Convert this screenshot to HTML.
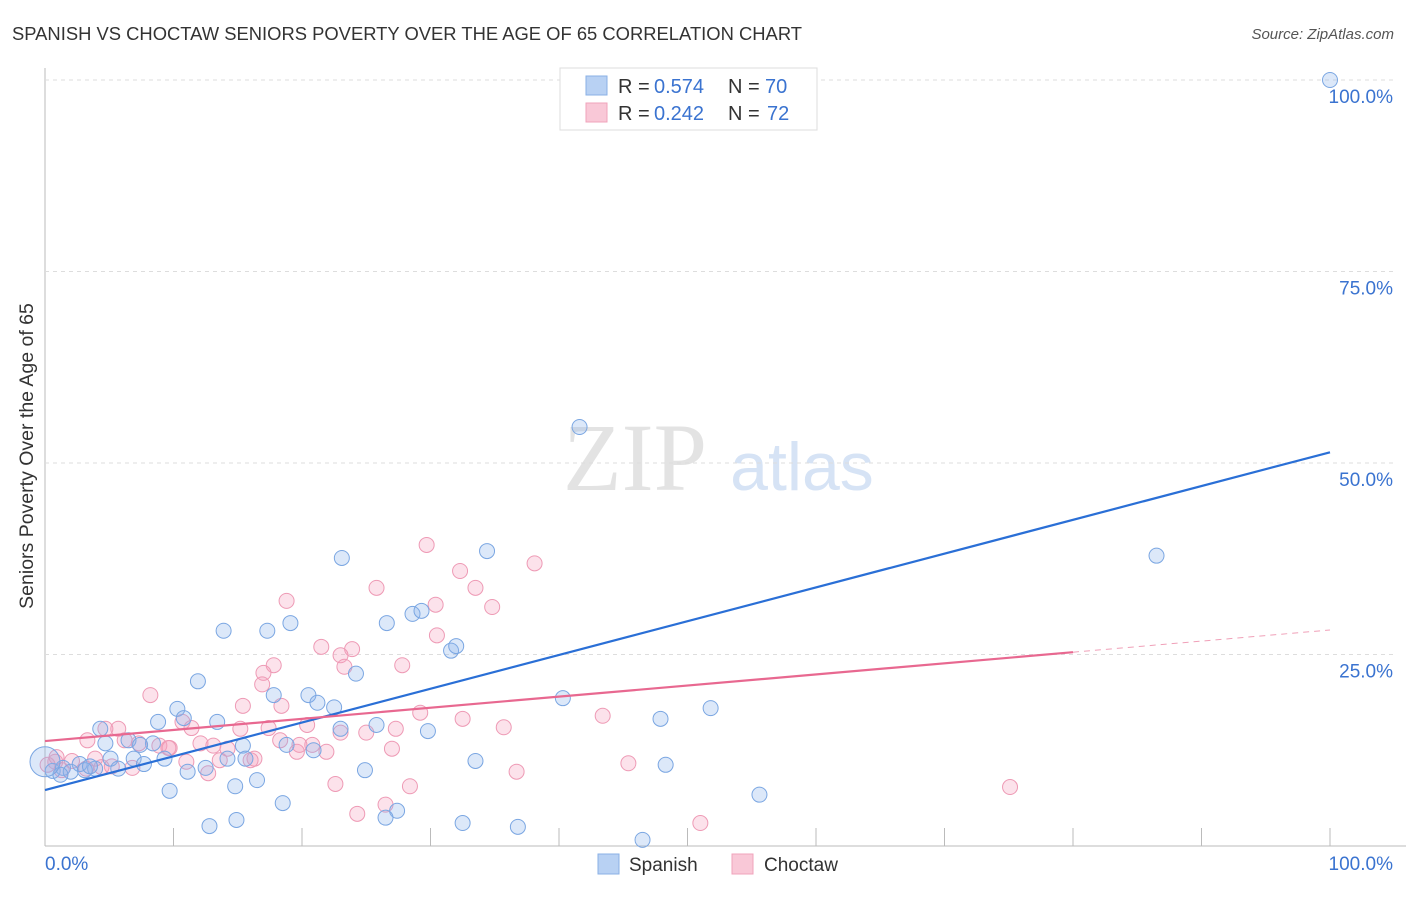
<!DOCTYPE html>
<html><head><meta charset="utf-8"><style>
body{margin:0;background:#fff;font-family:"Liberation Sans",sans-serif}
svg text{font-family:"Liberation Sans",sans-serif}
</style></head><body>
<svg id="chart" width="1406" height="892">
<text x="12" y="40" font-size="18" fill="#333" textLength="790" lengthAdjust="spacingAndGlyphs">SPANISH VS CHOCTAW SENIORS POVERTY OVER THE AGE OF 65 CORRELATION CHART</text>
<text x="1394" y="39" font-size="15" fill="#555" font-style="italic" text-anchor="end">Source: ZipAtlas.com</text>
<text transform="translate(33,456) rotate(-90)" font-size="19.5" fill="#333" text-anchor="middle">Seniors Poverty Over the Age of 65</text>
<g>
<text x="635" y="490" font-size="96" fill="#e3e3e3" font-family="Liberation Serif" text-anchor="middle" style="font-family:'Liberation Serif',serif">ZIP</text>
<text x="802" y="490" font-size="68" fill="#d6e3f5" text-anchor="middle">atlas</text>
</g>
<g id="grid"></g><g id="marks"></g>
<g>
<rect x="560" y="68" width="257" height="62" fill="#fff" stroke="#ddd"/>
<rect x="586" y="76" width="21" height="19" fill="#b8d1f3" stroke="#8ab0e6"/>
<rect x="586" y="103" width="21" height="19" fill="#f9c8d7" stroke="#f0a3bb"/>
<text y="93" font-size="20" fill="#333"><tspan x="618">R =</tspan><tspan x="654" fill="#3a73d0">0.574</tspan><tspan x="728">N =</tspan><tspan x="765" fill="#3a73d0">70</tspan></text>
<text y="120" font-size="20" fill="#333"><tspan x="618">R =</tspan><tspan x="654" fill="#3a73d0">0.242</tspan><tspan x="728">N =</tspan><tspan x="767" fill="#3a73d0">72</tspan></text>
</g>
<g>
<rect x="598" y="854" width="21" height="20" fill="#b8d1f3" stroke="#8ab0e6"/>
<text x="629" y="871" font-size="19" fill="#333">Spanish</text>
<rect x="732" y="854" width="21" height="20" fill="#f9c8d7" stroke="#f0a3bb"/>
<text x="764" y="871" font-size="19" fill="#333">Choctaw</text>
</g>
</svg>
<script>
const blueX=[100,41.6,86.5,34.4,23.1,13.9,17.3,19.1,26.6,28.6,29.3,31.6,32.0,24.2,11.9,17.8,20.5,21.2,22.5,10.3,10.8,8.8,13.4,25.8,29.8,23.0,40.3,47.9,51.8,4.3,6.5,4.7,8.4,15.4,18.8,20.9,5.1,6.9,9.3,7.7,15.6,14.2,33.5,48.3,2.7,3.9,5.7,0.6,1.4,2.0,11.1,12.5,24.9,16.5,14.8,9.7,18.5,55.6,27.4,26.5,14.9,12.8,32.5,36.8,46.5,1.2,3.1,7.4,3.5,0];
const blueY=[100,54.7,37.9,38.5,37.6,28.1,28.1,29.1,29.1,30.3,30.7,25.5,26.1,22.5,21.5,19.7,19.7,18.7,18.1,17.9,16.7,16.2,16.2,15.8,15.0,15.3,19.3,16.6,18.0,15.3,13.8,13.4,13.4,13.1,13.2,12.5,11.4,11.4,11.4,10.7,11.4,11.4,11.1,10.6,10.7,10.1,10.1,9.8,10.2,9.7,9.7,10.2,9.9,8.6,7.8,7.2,5.6,6.7,4.6,3.7,3.4,2.6,3.0,2.5,0.8,9.3,9.9,13.2,10.4,11.0];
const pinkX=[29.7,38.1,32.3,25.8,33.5,18.8,30.4,34.8,30.5,21.5,23.9,23.0,23.3,27.8,17.8,17.0,16.9,8.2,15.4,18.4,20.4,29.2,32.5,35.7,43.4,3.3,5.7,4.7,10.7,11.4,15.2,17.4,6.2,7.3,8.9,9.7,12.1,13.1,14.2,16.3,19.6,20.8,21.9,23.0,25.0,27.3,27.0,2.1,3.9,0.8,1.3,3.2,4.4,6.8,11.0,12.7,16.0,45.4,36.7,22.6,28.4,24.3,26.5,51.0,75.1,0.2,0.9,5.2,9.6,18.3,13.6,19.8];
const pinkY=[39.3,36.9,35.9,33.7,33.7,32.0,31.5,31.2,27.5,26.0,25.7,24.9,23.4,23.6,23.6,22.6,21.1,19.7,18.3,18.3,15.8,17.4,16.6,15.5,17.0,13.8,15.3,15.3,16.2,15.4,15.3,15.4,13.8,13.4,13.1,12.8,13.4,13.1,12.7,11.4,12.3,13.2,12.3,14.8,14.8,15.3,12.7,11.1,11.4,11.0,9.9,10.1,10.3,10.2,11.0,9.5,11.2,10.8,9.7,8.1,7.8,4.2,5.4,3.0,7.7,10.6,11.6,10.4,12.8,13.8,11.2,13.2];
const blueLine=[7.3,51.4];
const pinkLine=[13.7,25.3,28.2];
const yTicks=[25,50,75,100];
const yTickLabels=["25.0%","50.0%","75.0%","100.0%"];
const xTicks=[0,10,20,30,40,50,60,70,80,90,100];
const X=v=>45+v*12.85, Y=v=>846-v*7.66;
const NS="http://www.w3.org/2000/svg";
function mk(t,a,p){const e=document.createElementNS(NS,t);for(const k in a)e.setAttribute(k,a[k]);p.appendChild(e);return e;}
const g=document.getElementById('grid'), m=document.getElementById('marks');
let ax=mk('line',{x1:45,y1:68,x2:45,y2:846,stroke:'#bbb'},g);


let bx=mk('line',{x1:45,y1:846,x2:1406,y2:846,stroke:'#bbb'},g);


yTicks.forEach((t,i)=>{
 let l=mk('line',{x1:45,y1:Y(t),x2:1394,y2:Y(t),stroke:'#ddd','stroke-dasharray':'4,4'},g);
 
 
 let tx=mk('text',{x:1393,y:Y(t)+23,'font-size':19,fill:'#3a73d0','text-anchor':'end'},g);
 tx.textContent=yTickLabels[i];
 
 
});
xTicks.forEach(t=>{
 let l=mk('line',{x1:X(t),y1:828,x2:X(t),y2:846,stroke:'#bbb'},g);
 
 
});
let x0=mk('text',{x:45,y:870,'font-size':19,fill:'#3a73d0'},g);x0.textContent='0.0%';


let x1=mk('text',{x:1393,y:870,'font-size':19,fill:'#3a73d0','text-anchor':'end'},g);x1.textContent='100.0%';


pinkX.forEach((v,i)=>{
 let c=mk('circle',{cx:X(v),cy:Y(pinkY[i]),r:7.5,fill:'rgba(245,160,190,0.3)',stroke:'#ee9ab5','stroke-width':1},m);
 
 
});
blueX.forEach((v,i)=>{
 let c=mk('circle',{cx:X(v),cy:Y(blueY[i]),r:i==blueX.length-1?15:7.5,fill:'rgba(140,180,235,0.3)',stroke:'#7aa6e2','stroke-width':1},m);
 
 
});
let bl=mk('line',{x1:X(0),y1:Y(blueLine[0]),x2:X(100),y2:Y(blueLine[1]),stroke:'#2a6fd6','stroke-width':2.2},m);


let pl=mk('line',{x1:X(0),y1:Y(pinkLine[0]),x2:X(80),y2:Y(pinkLine[1]),stroke:'#e86890','stroke-width':2.2},m);


let pd=mk('line',{x1:X(80),y1:Y(pinkLine[1]),x2:X(100),y2:Y(pinkLine[2]),stroke:'#f0a0b8','stroke-width':1,'stroke-dasharray':'6,5'},m);


</script>
</body></html>
